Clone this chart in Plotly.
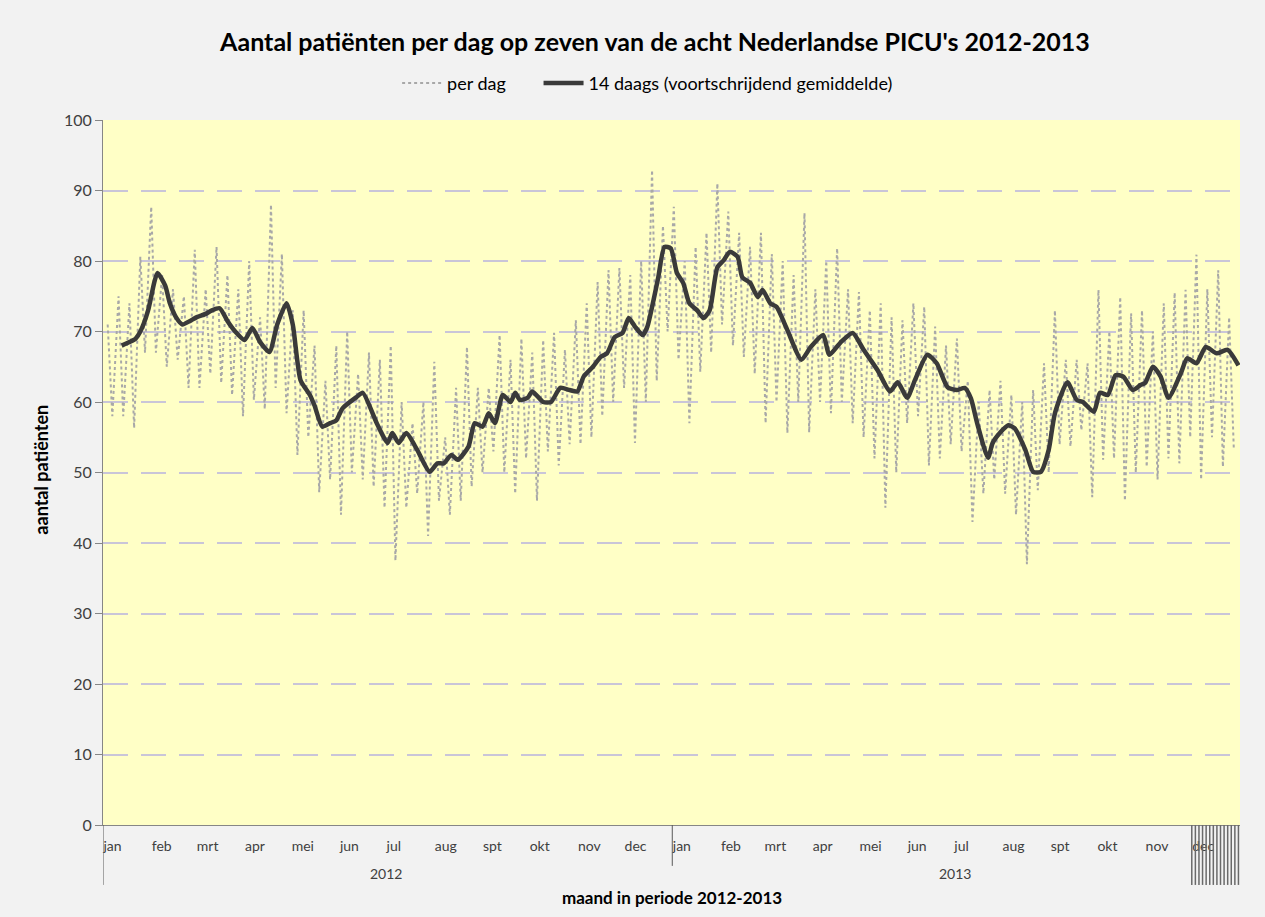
import pandas as pd
import plotly.graph_objects as go

# ---- data ----
months = ["jan", "feb", "mrt", "apr", "mei", "jun", "jul", "aug", "spt", "okt", "nov", "dec"]
years = ["2012", "2013"]

# daily series: weekday peak and weekend trough of each week (104 weeks from 1 Jan 2012)
week_high = [71, 75, 74, 80.6, 87.7, 78, 76, 75, 81.6, 76,
             82, 78, 76, 80, 72, 88, 81, 73, 73, 68,
             63, 68, 70, 64, 67, 66, 68, 60, 57, 60,
             65.7, 55, 62, 67.8, 62, 62, 69.5, 66, 69, 67,
             68.8, 69.8, 67.4, 71.6, 74, 77, 78.7, 79, 78, 80,
             92.9, 85, 87.7, 80, 82, 84, 91, 87, 84, 82,
             84, 81, 80, 78, 86.8, 76, 80, 81.8, 76, 75.6,
             73, 74, 72, 71.6, 74, 73.5, 70.7, 68, 69, 63,
             60, 61.7, 63, 61, 60, 61.7, 65.5, 73, 66, 66,
             65.5, 75.9, 70, 74.9, 72.6, 73, 70, 74, 75.5, 75.9,
             80.9, 76, 78.7, 72]
week_low = [58, 58, 56.3, 67, 67, 65, 66, 62, 62, 64,
            62.7, 61, 58, 60.3, 59, 62, 58.4, 52.5, 55, 47.2,
            49, 44, 50, 49, 48, 45, 37.5, 45, 47, 41,
            46, 44, 46, 48, 50, 53, 50, 47, 52, 46,
            53, 51, 54, 54, 55, 58, 60, 62, 54.2, 60,
            63, 70, 66, 57, 64.3, 67, 71, 68, 66.4, 64,
            57, 60, 55.6, 60, 55.7, 60, 58.4, 60, 57, 55,
            52, 45, 50, 57, 58, 51, 52, 54, 53, 43,
            47, 49, 47, 44, 37, 47.5, 50, 54, 53.7, 56,
            46.5, 51.8, 52, 46, 50, 50.8, 49, 52, 51.3, 55,
            49, 55, 50.8, 53.5]

# 14-day moving average: day number since 1 Jan 2012 and value
ma_day = [12, 17, 21, 24, 29, 33, 35, 40, 43, 47,
          51, 56, 60, 66, 70, 75, 80, 85, 91, 96,
          101, 107, 112, 118, 122, 127, 133, 136, 141, 146,
          150, 154, 163, 167, 176, 183, 186, 190, 195, 202,
          210, 215, 219, 224, 228, 235, 239, 244, 248, 252,
          257, 262, 265, 268, 273, 276, 283, 288, 294, 300,
          305, 309, 315, 320, 324, 329, 334, 338, 342, 347,
          350, 354, 357, 361, 365, 369, 373, 377, 382, 386,
          390, 395, 399, 403, 408, 411, 416, 421, 424, 429,
          433, 440, 449, 455, 463, 467, 474, 482, 489, 498,
          506, 511, 517, 522, 530, 536, 543, 549, 554, 558,
          562, 569, 572, 577, 582, 586, 593, 598, 603, 608,
          612, 620, 626, 630, 637, 641, 646, 651, 656, 662,
          667, 670, 675, 680, 685, 693, 697, 703, 709, 716,
          723, 730]
ma_val = [68, 68.5, 69, 70, 73, 77, 78.3, 76.5, 74, 72,
          71, 71.5, 72, 72.5, 73, 73.3, 71.5, 70, 68.8, 70.5,
          68.5, 67.1, 71, 74, 71, 63.1, 61, 59.5, 56.5, 57,
          57.4, 59.1, 60.7, 61.3, 57, 54.2, 55.6, 54.2, 55.6, 53.2,
          50.1, 51.3, 51.3, 52.5, 51.8, 53.7, 57, 56.5, 58.4, 57,
          61, 60, 61.3, 60.3, 60.6, 61.5, 60, 60, 62, 61.7,
          61.5, 63.6, 65, 66.4, 66.9, 69.2, 69.8, 71.9, 70.7, 69.5,
          70.7, 74.5, 77.7, 82, 81.8, 78.3, 76.9, 74, 73, 71.9,
          73, 79.1, 80.1, 81.3, 80.6, 77.7, 76.9, 74.9, 75.9, 74,
          73.5, 70.2, 66, 67.8, 69.5, 66.7, 68.4, 69.8, 67.4, 64.5,
          61.5, 62.8, 60.6, 63.1, 66.7, 65.5, 62.1, 61.7, 62, 60.5,
          57, 52.1, 54.2, 55.7, 56.7, 56.3, 53.2, 50.1, 50.1, 53.2,
          58.4, 62.8, 60.3, 60, 58.6, 61.3, 61, 63.8, 63.6, 61.7,
          62.4, 62.7, 65, 63.6, 60.6, 64.1, 66.2, 65.5, 67.8, 66.9,
          67.4, 65.2]

y_ticks = [0, 10, 20, 30, 40, 50, 60, 70, 80, 90, 100]

# ---- build series ----
start = pd.Timestamp("2012-01-01")
high_dates = pd.date_range("2012-01-04", periods=len(week_high), freq="7D")
low_dates = pd.date_range("2012-01-07", periods=len(week_low), freq="7D")
daily_x, daily_y = [], []
for hd, hv, ld, lv in zip(high_dates, week_high, low_dates, week_low):
    daily_x += [hd, ld]
    daily_y += [hv, lv]
ma_x = [start + pd.Timedelta(days=d) for d in ma_day]

month_starts = pd.date_range("2012-01-01", "2013-12-01", freq="MS")
month_text = months * 2

FONT = "Lato, 'Open Sans', sans-serif"
AX = "#868686"
BG = "#f2f2f2"

fig = go.Figure()
fig.add_trace(go.Scatter(x=daily_x, y=daily_y, mode="lines",
                         name="per dag" + "\u00a0" * 6,
                         line=dict(color="#a8a8a8", width=2, dash="dot")))
fig.add_trace(go.Scatter(x=ma_x, y=ma_val, mode="lines",
                         name="14 daags (voortschrijdend gemiddelde)",
                         line=dict(color="#3a3a3a", width=4.5, shape="spline", smoothing=0.6)))

shapes = []
# year separators of the two-level category axis
shapes.append(dict(type="line", xref="x", yref="paper", x0="2012-01-01", x1="2012-01-01",
                   y0=0, y1=-0.085, line=dict(color="#595959", width=1)))
shapes.append(dict(type="line", xref="x", yref="paper", x0="2013-01-01", x1="2013-01-01",
                   y0=0, y1=-0.058, line=dict(color="#595959", width=1)))
# dense tick marks below December 2013
for d in pd.date_range("2013-12-01", "2013-12-31", periods=14):
    shapes.append(dict(type="line", xref="x", yref="paper", x0=d, x1=d,
                       y0=0, y1=-0.085, line=dict(color="#6a6a6a", width=1.5)))

annotations = [
    dict(text=years[0], x="2012-07-01", y=-0.083, xref="x", yref="paper",
         showarrow=False, font=dict(size=14, color="#404040", family=FONT)),
    dict(text=years[1], x="2013-07-02", y=-0.083, xref="x", yref="paper",
         showarrow=False, font=dict(size=14, color="#404040", family=FONT)),
    dict(text="<b>maand in periode 2012-2013</b>", x=0.50, y=-0.12, xref="paper", yref="paper",
         showarrow=False, font=dict(size=17, color="#000000", family=FONT)),
    dict(text="<b>aantal patiënten</b>", x=-0.066, y=0.504, xref="paper", yref="paper",
         textangle=-90, showarrow=False, font=dict(size=18, color="#000000", family=FONT)),
]

fig.update_layout(
    width=1249, height=901,
    margin=dict(l=95, r=17, t=112, b=84),
    paper_bgcolor=BG,
    plot_bgcolor="#ffffc6",
    font=dict(family=FONT, color="#404040"),
    title=dict(text="<b>Aantal patiënten per dag op zeven van de acht Nederlandse PICU's 2012-2013</b>",
               x=0.518, xanchor="center", y=0.962, yanchor="middle",
               font=dict(size=25, color="#000000", family=FONT)),
    showlegend=True,
    legend=dict(orientation="h", x=0.479, xanchor="center", y=1.052, yanchor="middle",
                bgcolor="rgba(0,0,0,0)", font=dict(size=18, color="#000000", family=FONT),
                itemwidth=40),
    xaxis=dict(type="date", range=["2012-01-01", "2014-01-01"],
               tickvals=month_starts, ticktext=month_text,
               ticklabelposition="outside right", ticks="", ticklabelstandoff=8,
               showgrid=False, showline=True, linecolor=AX, linewidth=1,
               tickfont=dict(size=14, color="#404040", family=FONT), zeroline=False),
    yaxis=dict(range=[0, 100], tickvals=y_ticks, ticks="outside", ticklen=7, tickcolor=AX,
               showline=True, linecolor=AX, linewidth=1,
               showgrid=True, gridcolor="#c9c5d8", gridwidth=2, griddash="25px,13px",
               zeroline=False, tickfont=dict(size=16, color="#404040", family=FONT)),
    shapes=shapes,
    annotations=annotations,
)

fig.write_html("out.html",
               post_script="document.body.style.backgroundColor='%s';"
                           "document.documentElement.style.backgroundColor='%s';" % (BG, BG))
